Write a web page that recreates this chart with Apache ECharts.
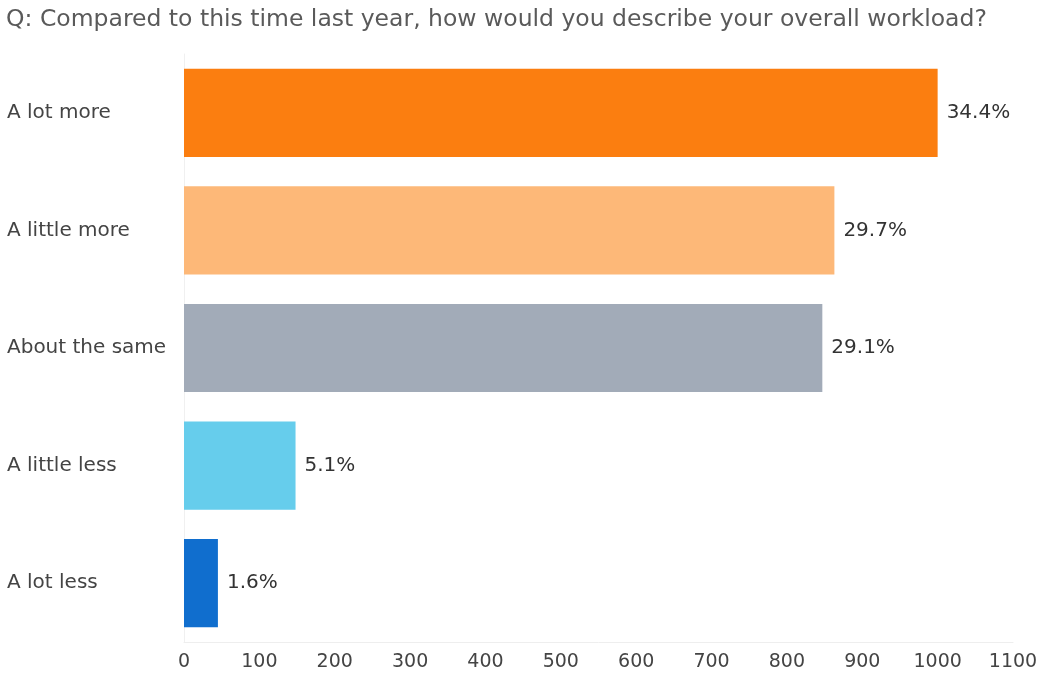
<!DOCTYPE html>
<html>
<head>
<meta charset="utf-8">
<script src="https://cdn.jsdelivr.net/npm/echarts@6/dist/echarts.min.js"></script>
<style>
html,body{margin:0;padding:0;background:#fff;}
#main{width:1045px;height:683px;}
</style>
</head>
<body>
<div id="main"></div>
<script>
// answers (top to bottom)
var categories = ['A lot more', 'A little more', 'About the same', 'A little less', 'A lot less'];
// respondent counts
var counts = [1000, 863, 847, 148, 45];
// share labels shown at bar ends
var shares = ['34.4%', '29.7%', '29.1%', '5.1%', '1.6%'];
var xTicks = [0, 100, 200, 300, 400, 500, 600, 700, 800, 900, 1000, 1100];

var barColors = ['#FB7E10', '#FDB878', '#A2ABB8', '#66CDEC', '#106ECE'];
var fontName = 'DejaVu Sans';

var chart = echarts.init(document.getElementById('main'));

var seriesData = [];
for (var i = 0; i < counts.length; i++) {
	seriesData.push({
		value: counts[i],
		itemStyle: { color: barColors[i] },
		label: { formatter: shares[i] }
	});
}

chart.setOption({
	backgroundColor: '#fff',
	animation: false,
	title: {
		text: 'Q: Compared to this time last year, how would you describe your overall workload?',
		left: 6,
		top: 8,
		padding: 0,
		textStyle: {
			fontFamily: fontName,
			fontSize: 23.5,
			fontWeight: 'normal',
			color: '#5a5a5a'
		}
	},
	grid: {
		left: 184,
		right: 32,
		top: 54,
		bottom: 41,
		containLabel: false
	},
	xAxis: {
		type: 'value',
		min: xTicks[0],
		max: xTicks[xTicks.length - 1],
		interval: 100,
		axisLine: { show: true, lineStyle: { color: '#eeeeee' } },
		axisTick: { show: false },
		splitLine: { show: false },
		axisLabel: {
			margin: 11,
			fontFamily: fontName,
			fontSize: 19,
			color: '#444',
			formatter: function (v) { return String(v); }
		}
	},
	yAxis: {
		type: 'category',
		inverse: true,
		data: categories,
		axisLine: { show: true, lineStyle: { color: '#f0f0f0' } },
		axisTick: { show: false },
		axisLabel: {
			align: 'left',
			margin: 177,
			fontFamily: fontName,
			fontSize: 20,
			color: '#444'
		}
	},
	series: [{
		type: 'bar',
		data: seriesData,
		barCategoryGap: '25%',
		label: {
			show: true,
			position: 'right',
			distance: 9,
			fontFamily: fontName,
			fontSize: 20,
			color: '#333'
		}
	}]
});
</script>
</body>
</html>
